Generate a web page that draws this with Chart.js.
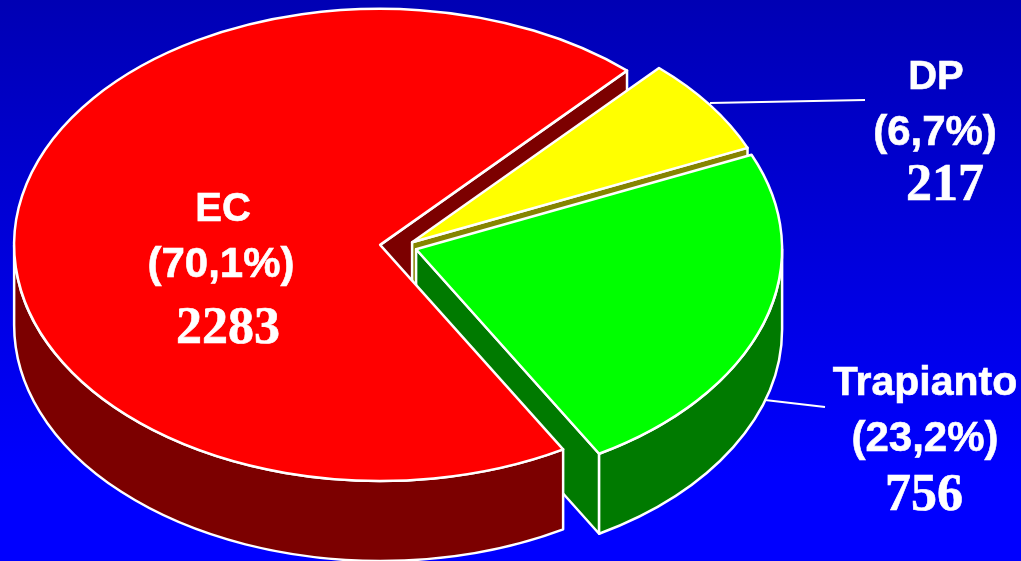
<!DOCTYPE html>
<html>
<head>
<meta charset="utf-8">
<style>html,body{margin:0;padding:0;background:#0000d8;overflow:hidden}canvas{display:block}</style>
<script src="https://cdn.jsdelivr.net/npm/chart.js@4/dist/chart.umd.min.js"></script>
</head>
<body>
<canvas id="c" width="1021" height="561"></canvas>
<script>
const categories = ['EC', 'DP', 'Trapianto'];
const values = [2283, 217, 756];
const percentLabels = ['(70,1%)', '(6,7%)', '(23,2%)'];
const topColors = ['#ff0000', '#ffff00', '#00ff00'];
const sideColors = ['#7c0000', '#858500', '#007a00'];
const explode = [23, 11.2, 13.8];
const squash = 0.645;
const depth = 80;
const pieRadius = 366;
const labelLayout = [
  {x: 223, a: 221, b: 277, c: 343, xb: 221, xc: 228, nameSize: 40},
  {x: 936, a: 89, b: 145, c: 200, xb: 935, xc: 945, nameSize: 40},
  {x: 925, a: 395, b: 451, c: 510, xb: 925, xc: 924, nameSize: 41}
];
const leaders = [null, [[710,103],[865,100]], [[765,400],[825,407]]];

const threeD = {
  id: 'threeD',
  beforeDraw(chart) {
    const ctx = chart.ctx;
    const g = ctx.createLinearGradient(0, 0, 0, 561);
    g.addColorStop(0, '#0000b4');
    g.addColorStop(0.85, '#0000ff');
    g.addColorStop(1, '#0000ff');
    ctx.save(); ctx.fillStyle = g; ctx.fillRect(0, 0, 1021, 561); ctx.restore();
  },
  beforeDatasetDraw(chart) {
    const ctx = chart.ctx;
    const arcs = chart.getDatasetMeta(0).data;
    const centre = i => {
      const a = arcs[i], h = (a.startAngle + a.endAngle) / 2;
      return {x: a.x + explode[i] * Math.cos(h), y: a.y + explode[i] * squash * Math.sin(h)};
    };
    const style = i => {
      ctx.strokeStyle = '#ffffff'; ctx.lineWidth = 2.5; ctx.lineJoin = 'round';
      ctx.fillStyle = sideColors[i];
    };
    const cutWall = (i, ang) => {
      const c = centre(i), R = arcs[i].outerRadius;
      const px = c.x + R * Math.cos(ang), py = c.y + R * squash * Math.sin(ang);
      style(i);
      ctx.beginPath();
      ctx.moveTo(c.x, c.y); ctx.lineTo(px, py); ctx.lineTo(px, py + depth); ctx.lineTo(c.x, c.y + depth);
      ctx.closePath(); ctx.fill(); ctx.stroke();
    };
    const outerWall = i => {
      const a = arcs[i], c = centre(i), R = a.outerRadius;
      for (const [lo, hi] of [[0, Math.PI], [2 * Math.PI, 3 * Math.PI]]) {
        const s = Math.max(a.startAngle, lo), e = Math.min(a.endAngle, hi);
        if (e <= s) continue;
        style(i);
        ctx.beginPath();
        ctx.ellipse(c.x, c.y, R, R * squash, 0, s, e);
        ctx.lineTo(c.x + R * Math.cos(e), c.y + R * squash * Math.sin(e) + depth);
        ctx.ellipse(c.x, c.y + depth, R, R * squash, 0, e, s, true);
        ctx.closePath(); ctx.fill(); ctx.stroke();
      }
    };
    const top = i => {
      const a = arcs[i], c = centre(i);
      ctx.save();
      ctx.translate(c.x, c.y); ctx.scale(1, squash); ctx.translate(-a.x, -a.y);
      a.draw(ctx);
      ctx.restore();
      style(i);
      ctx.beginPath();
      ctx.moveTo(c.x, c.y);
      ctx.ellipse(c.x, c.y, a.outerRadius, a.outerRadius * squash, 0, a.startAngle, a.endAngle);
      ctx.closePath(); ctx.stroke();
    };
    ctx.save();
    // leader lines sit behind the pie
    ctx.strokeStyle = '#ffffff'; ctx.lineWidth = 2;
    leaders.forEach(l => {
      if (!l) return;
      ctx.beginPath(); ctx.moveTo(l[0][0], l[0][1]); ctx.lineTo(l[1][0], l[1][1]); ctx.stroke();
    });
    cutWall(0, arcs[0].endAngle);
    cutWall(1, arcs[1].endAngle);
    top(1);
    cutWall(2, arcs[2].endAngle);
    outerWall(2);
    top(2);
    outerWall(0);
    top(0);
    ctx.restore();
    return false;
  },
  afterDraw(chart) {
    const ctx = chart.ctx;
    ctx.save();
    ctx.fillStyle = '#ffffff';
    ctx.strokeStyle = '#ffffff';
    ctx.lineWidth = 0.6;
    ctx.textAlign = 'center';
    ctx.textBaseline = 'alphabetic';
    const put = (t, x, y) => { ctx.fillText(t, x, y); ctx.strokeText(t, x, y); };
    categories.forEach((name, i) => {
      const p = labelLayout[i];
      ctx.font = 'bold ' + p.nameSize + 'px "Liberation Sans", Arial, sans-serif';
      put(name, p.x, p.a);
      ctx.font = 'bold 42px "Liberation Sans", Arial, sans-serif';
      put(percentLabels[i], p.xb, p.b);
      ctx.font = 'bold 52px "Liberation Serif", "Times New Roman", serif';
      put(String(values[i]), p.xc, p.c);
    });
    ctx.restore();
  }
};

new Chart(document.getElementById('c'), {
  type: 'pie',
  data: {
    labels: categories,
    datasets: [{data: values, backgroundColor: topColors, borderWidth: 0, hoverOffset: 0}]
  },
  options: {
    responsive: false,
    animation: false,
    rotation: 150,
    radius: pieRadius,
    layout: {padding: {right: 215, bottom: 68}},
    events: [],
    plugins: {legend: {display: false}, tooltip: {enabled: false}}
  },
  plugins: [threeD]
});
</script>
</body>
</html>
